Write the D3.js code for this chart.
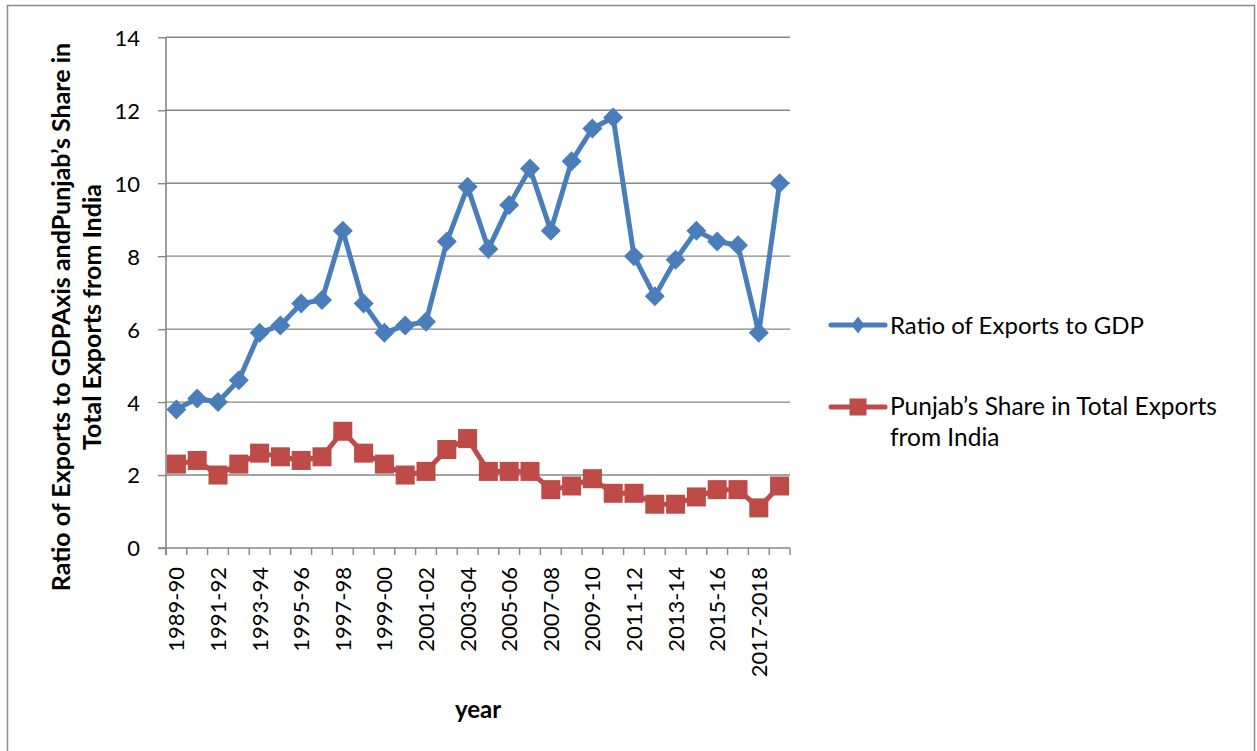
<!DOCTYPE html>
<html>
<head>
<meta charset="utf-8">
<script src="https://cdn.jsdelivr.net/npm/d3@7"></script>
<style>
  html, body { margin: 0; padding: 0; background: #fff; }
  svg { display: block; }
  text { font-family: Lato, "Open Sans", sans-serif; fill: #000; }
</style>
</head>
<body>
<svg id="chart" width="1257" height="751"></svg>
<script>
const categories = ["1989-90","1990-91","1991-92","1992-93","1993-94","1994-95","1995-96","1996-97","1997-98","1998-99",
  "1999-00","2000-01","2001-02","2002-03","2003-04","2004-05","2005-06","2006-07","2007-08","2008-09",
  "2009-10","2010-11","2011-12","2012-13","2013-14","2014-15","2015-16","2016-17","2017-2018","2018-19"];
const ratioExportsGDP = [3.8,4.1,4.0,4.6,5.9,6.1,6.7,6.8,8.7,6.7,5.9,6.1,6.2,8.4,9.9,8.2,9.4,10.4,8.7,10.6,11.5,11.8,8.0,6.9,7.9,8.7,8.4,8.3,5.9,10.0];
const punjabShare = [2.3,2.4,2.0,2.3,2.6,2.5,2.4,2.5,3.2,2.6,2.3,2.0,2.1,2.7,3.0,2.1,2.1,2.1,1.6,1.7,1.9,1.5,1.5,1.2,1.2,1.4,1.6,1.6,1.1,1.7];
const yTicks = [0,2,4,6,8,10,12,14];
const seriesNames = ["Ratio of Exports to GDP", "Punjab’s Share in Total Exports", "from India"];
const yTitleLines = ["Ratio of Exports to GDPAxis andPunjab’s Share in", "Total Exports from India"];
const xTitle = "year";

(function () {
const svg = d3.select("#chart");
const BLUE = "#4A7EBB", RED = "#BE4B48", GRID = "#868686";

// outer border
svg.append("rect").attr("x", 7.5).attr("y", 5.5).attr("width", 1247).attr("height", 800)
  .attr("fill", "none").attr("stroke", "#8c8c8c").attr("stroke-width", 1.5);

const pLeft = 166, pRight = 790, pTop = 37.3, pBottom = 548;
const x = d3.scaleBand().domain(categories).range([pLeft, pRight]);
const y = d3.scaleLinear().domain([0, 14]).range([pBottom, pTop]);
const cx = c => x(c) + x.bandwidth() / 2;

// gridlines
svg.append("g").selectAll("line").data(yTicks.filter(v => v > 0)).join("line")
  .attr("x1", pLeft).attr("x2", pRight).attr("y1", d => y(d)).attr("y2", d => y(d))
  .attr("stroke", GRID).attr("stroke-width", 1.4);

// y axis
const yAxis = svg.append("g").attr("transform", `translate(${pLeft},0)`)
  .call(d3.axisLeft(y).tickValues(yTicks).tickSize(8).tickPadding(18).tickFormat(d3.format("d")));
yAxis.select(".domain").remove();
yAxis.selectAll(".tick line").attr("stroke", GRID).attr("stroke-width", 1.4);
yAxis.selectAll(".tick text").attr("font-size", 22).attr("font-family", "Lato").attr("dy", "0.36em");
svg.append("line").attr("x1", pLeft).attr("x2", pLeft).attr("y1", pTop).attr("y2", pBottom + 7)
  .attr("stroke", GRID).attr("stroke-width", 1.6);

// x axis
const xAxis = svg.append("g").attr("transform", `translate(0,${pBottom})`)
  .call(d3.axisBottom(x).tickSize(0).tickPadding(0));
xAxis.select(".domain").remove();
xAxis.selectAll(".tick text")
  .text((d, i) => i % 2 === 0 ? d : "")
  .attr("font-size", 22).attr("font-family", "Lato")
  .attr("text-anchor", "end")
  .attr("transform", "rotate(-90)")
  .attr("x", -19).attr("y", 0).attr("dy", "0.36em");
svg.append("line").attr("x1", pLeft - 8).attr("x2", pRight).attr("y1", pBottom).attr("y2", pBottom)
  .attr("stroke", GRID).attr("stroke-width", 1.6);
svg.append("g").selectAll("line").data(categories.concat(["__end"])).join("line")
  .attr("x1", d => d === "__end" ? pRight : x(d)).attr("x2", d => d === "__end" ? pRight : x(d))
  .attr("y1", pBottom).attr("y2", pBottom + 7)
  .attr("stroke", GRID).attr("stroke-width", 1.4);

// series
const line = d3.line().x((d, i) => cx(categories[i])).y(d => y(d));
svg.append("path").datum(ratioExportsGDP).attr("d", line)
  .attr("fill", "none").attr("stroke", BLUE).attr("stroke-width", 5).attr("stroke-linejoin", "round");
svg.append("path").datum(punjabShare).attr("d", line)
  .attr("fill", "none").attr("stroke", RED).attr("stroke-width", 5).attr("stroke-linejoin", "round");

const diamond = "M0,-10L10,0L0,10L-10,0Z";
svg.append("g").selectAll("path").data(ratioExportsGDP).join("path")
  .attr("d", diamond).attr("transform", (d, i) => `translate(${cx(categories[i])},${y(d)})`)
  .attr("fill", BLUE);
svg.append("g").selectAll("rect").data(punjabShare).join("rect")
  .attr("x", (d, i) => cx(categories[i]) - 9.5).attr("y", d => y(d) - 9.5)
  .attr("width", 19).attr("height", 19).attr("fill", RED);

// legend
const lg = svg.append("g");
lg.append("line").attr("x1", 831).attr("x2", 885).attr("y1", 325).attr("y2", 325)
  .attr("stroke", BLUE).attr("stroke-width", 5).attr("stroke-linecap", "round");
lg.append("path").attr("d", "M0,-8.5L6.5,0L0,8.5L-6.5,0Z").attr("transform", "translate(858,325)").attr("fill", BLUE);
lg.append("text").attr("x", 890).attr("y", 334).attr("font-size", 24).text(seriesNames[0]);
lg.append("line").attr("x1", 831).attr("x2", 885).attr("y1", 407).attr("y2", 407)
  .attr("stroke", RED).attr("stroke-width", 5).attr("stroke-linecap", "round");
lg.append("rect").attr("x", 849.5).attr("y", 398.5).attr("width", 17).attr("height", 17).attr("fill", RED);
lg.append("text").attr("x", 890).attr("y", 415).attr("font-size", 24.5).text(seriesNames[1]);
lg.append("text").attr("x", 890).attr("y", 446).attr("font-size", 24.5).text(seriesNames[2]);

// axis titles
const yt = svg.append("text").attr("transform", "translate(0,317) rotate(-90)")
  .attr("text-anchor", "middle").attr("font-weight", "bold").attr("font-size", 25);
yt.append("tspan").attr("x", 0).attr("y", 70).text(yTitleLines[0]);
yt.append("tspan").attr("x", 0).attr("y", 101).text(yTitleLines[1]);
svg.append("text").attr("x", 478).attr("y", 718).attr("text-anchor", "middle")
  .attr("font-weight", "bold").attr("font-size", 24).text(xTitle);
})();
</script>
</body>
</html>
